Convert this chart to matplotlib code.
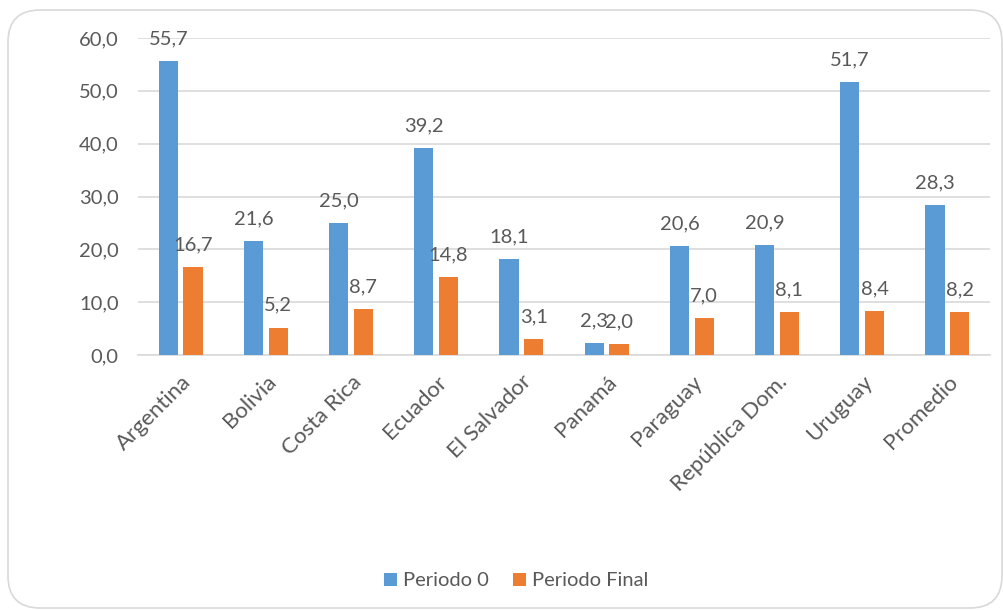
import matplotlib.pyplot as plt
from matplotlib.patches import FancyBboxPatch
import numpy as np

# data
paises = ['Argentina', 'Bolivia', 'Costa Rica', 'Ecuador', 'El Salvador',
          'Panamá', 'Paraguay', 'República Dom.', 'Uruguay', 'Promedio']
periodo_0 = [55.7, 21.6, 25.0, 39.2, 18.1, 2.3, 20.6, 20.9, 51.7, 28.3]
periodo_final = [16.7, 5.2, 8.7, 14.8, 3.1, 2.0, 7.0, 8.1, 8.4, 8.2]

azul = '#5B9BD5'
naranja = '#ED7D31'
gris = '#595959'
fs = 14.5

plt.rcParams['font.family'] = ['Lato', 'DejaVu Sans']

fig = plt.figure(figsize=(10.04, 6.10), dpi=100)

# marco redondeado del grafico
marco = FancyBboxPatch((8 / 1004, 2 / 610), 994 / 1004, 598 / 610,
                       boxstyle='round,pad=0,rounding_size=0.032',
                       transform=fig.transFigure, facecolor='white',
                       edgecolor='#D9D9D9', linewidth=1.2,
                       mutation_aspect=1004 / 610, zorder=-10)
fig.patches.append(marco)

ax = fig.add_axes([138 / 1004, 1 - 355 / 610, 852 / 1004, 317 / 610])
ax.set_facecolor('none')

x = np.arange(len(paises))
ancho = 0.225
sep = 0.145

b1 = ax.bar(x - sep, periodo_0, ancho, color=azul, label='Periodo 0', zorder=3)
b2 = ax.bar(x + sep, periodo_final, ancho, color=naranja, label='Periodo Final', zorder=3)

def etiqueta(v):
    return f'{v:.1f}'.replace('.', ',')

# etiquetas de valor sobre cada barra
for barras, vals in ((b1, periodo_0), (b2, periodo_final)):
    for b, v in zip(barras, vals):
        ax.annotate(etiqueta(v), (b.get_x() + b.get_width() / 2, v),
                    xytext=(0, 12), textcoords='offset points',
                    ha='center', va='baseline', fontsize=fs, color=gris, zorder=4)

ax.set_xlim(-0.5, len(paises) - 0.5)
ax.set_ylim(0, 60)
ax.set_yticks(np.arange(0, 61, 10))
ax.set_yticklabels([etiqueta(v) for v in np.arange(0, 61, 10)],
                   fontsize=fs, color=gris)
ax.set_xticks(x)
ax.set_xticklabels(paises, rotation=45, ha='right', rotation_mode='anchor',
                   fontsize=16, color=gris)
ax.tick_params(axis='both', length=0)
ax.tick_params(axis='y', pad=14)
ax.tick_params(axis='x', pad=12)

ax.grid(axis='y', color='#D9D9D9', linewidth=1.2, zorder=0)
for s in ['top', 'right', 'left']:
    ax.spines[s].set_visible(False)
ax.spines['bottom'].set_color('#D9D9D9')
ax.spines['bottom'].set_linewidth(1.2)

fig.legend(handles=[b1, b2], loc='center', bbox_to_anchor=(516 / 1004, 1 - 581 / 610),
           ncol=2, frameon=False, fontsize=fs, labelcolor=gris,
           handlelength=0.65, handleheight=0.65, handletextpad=0.3, columnspacing=1.2)

fig.savefig('out.png', dpi=100)
